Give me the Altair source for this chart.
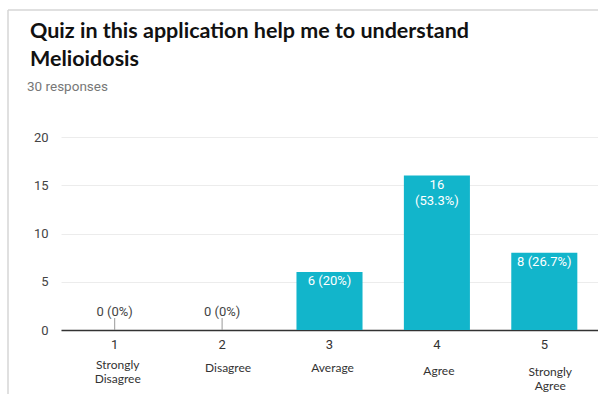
import altair as alt
import pandas as pd

categories = ["1", "2", "3", "4", "5"]
names = ["Strongly\nDisagree", "Disagree", "Average", "Agree", "Strongly\nAgree"]
counts = [0, 0, 6, 16, 8]
value_labels = ["0 (0%)", "0 (0%)", "6 (20%)", "16\n(53.3%)", "8 (26.7%)"]
y_ticks = [0, 2.5, 5, 7.5, 10, 12.5, 15, 17.5, 20]
title_text = "Quiz in this application help me to understand\nMelioidosis"
subtitle_text = "30 responses"

df = pd.DataFrame({"cat": categories, "name": names, "count": counts, "label": value_labels})

W, H = 537, 193
BAR = "#12b5cb"

x = alt.X("cat:N", sort=categories,
          scale=alt.Scale(paddingInner=0.385, paddingOuter=0.1925),
          axis=alt.Axis(title=None, labelAngle=0, ticks=False, domainColor="#333333",
                        domainWidth=1.5, labelFontSize=13, labelColor="#333333",
                        labelFont="Roboto", labelPadding=8))
y = alt.Y("count:Q", scale=alt.Scale(domain=[0, 20], nice=False),
          axis=alt.Axis(title=None, values=y_ticks, ticks=False, domain=False,
                        labelExpr="datum.value % 5 == 0 ? datum.label : ''",
                        gridColor="#ececec", labelFontSize=13, labelColor="#444444",
                        labelFont="Roboto", labelPadding=13))

base = alt.Chart(df)
bars = base.mark_bar(color=BAR).encode(x=x, y=y)

stems = base.transform_filter("datum.count == 0").mark_rule(color="#999999", strokeWidth=1).encode(
    x=alt.X("cat:N", sort=categories), y=alt.value(H - 12), y2=alt.value(H))
zero_lbl = base.transform_filter("datum.count == 0").mark_text(
    font="Roboto", fontSize=13, color="#444444", baseline="middle").encode(
    x=alt.X("cat:N", sort=categories), y=alt.value(H - 18), text="label:N")
in_lbl = base.transform_filter("datum.count > 0").mark_text(
    font="Roboto", fontSize=13, color="white", baseline="top", dy=3, lineHeight=16.5,
    lineBreak="\n").encode(
    x=alt.X("cat:N", sort=categories), y=alt.Y("count:Q"), text="label:N")

offsets = {"1": (3, 35), "2": (6, 38), "3": (3, 38), "4": (2, 41), "5": (6, 42)}
name_layers = []
for c in categories:
    dx, dy = offsets[c]
    name_layers.append(
        base.transform_filter(f"datum.cat == '{c}'").mark_text(
            font="Lato", fontSize=12, color="#333333", baseline="middle",
            lineBreak="\n", lineHeight=13.5, dx=dx).encode(
            x=alt.X("cat:N", sort=categories), y=alt.value(H + dy), text="name:N"))

tdf = pd.DataFrame({"t": [title_text]})
sdf = pd.DataFrame({"t": [subtitle_text]})
title = alt.Chart(tdf).mark_text(font="Lato", fontWeight="bold", fontSize=21.5, color="#111111",
                                 align="left", baseline="middle", lineBreak="\n", lineHeight=28).encode(
    x=alt.value(-31), y=alt.value(32 - 137), text="t:N")
subtitle = alt.Chart(sdf).mark_text(font="Roboto", fontSize=13.5, color="#777777",
                                    align="left", baseline="middle").encode(
    x=alt.value(27 - 61), y=alt.value(87 - 137), text="t:N")

card_top = alt.Chart(sdf).mark_rule(color="#d6d6d6", strokeWidth=1.5).encode(
    x=alt.value(8 - 61), x2=alt.value(W + 10), y=alt.value(10 - 137))
card_left = alt.Chart(sdf).mark_rule(color="#d6d6d6", strokeWidth=1.5).encode(
    x=alt.value(8 - 61), y=alt.value(10 - 137), y2=alt.value(H + 70))

chart = alt.layer(bars, stems, zero_lbl, in_lbl, *name_layers, title, subtitle, card_top, card_left).properties(
    width=W, height=H, autosize=alt.AutoSizeParams(type="none"),
    padding={"left": 61, "top": 137, "right": 0, "bottom": 64},
    background="white"
).configure_view(stroke=None)

chart.save("out.html", embed_options={"renderer": "svg", "actions": False})
